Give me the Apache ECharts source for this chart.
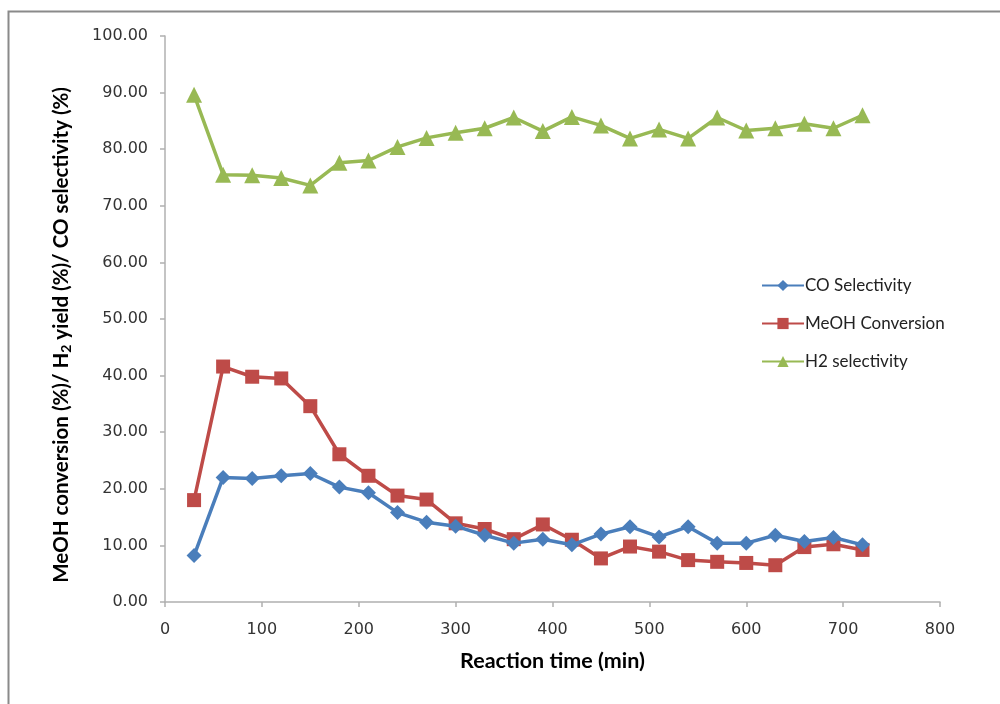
<!DOCTYPE html>
<html>
<head>
<meta charset="utf-8">
<script src="https://cdn.jsdelivr.net/npm/echarts@6/dist/echarts.min.js"></script>
<style>
  html, body { margin: 0; padding: 0; background: #fff; }
  #chart { width: 1000px; height: 704px; }
</style>
</head>
<body>
<div id="chart"></div>
<script>
// Reaction time (min)
const times = [30, 60, 90, 120, 150, 180, 210, 240, 270, 300, 330, 360,
               390, 420, 450, 480, 510, 540, 570, 600, 630, 660, 690, 720];

// CO selectivity (%)
const coSelectivity = [8.2, 22.0, 21.8, 22.3, 22.7, 20.3, 19.3, 15.8, 14.1, 13.4, 11.8, 10.4,
                       11.1, 10.1, 12.0, 13.3, 11.5, 13.3, 10.4, 10.4, 11.8, 10.7, 11.4, 10.1];

// MeOH conversion (%)
const meohConversion = [18.0, 41.6, 39.8, 39.5, 34.6, 26.1, 22.3, 18.8, 18.1, 13.9, 12.9, 11.1,
                        13.7, 11.0, 7.7, 9.8, 8.9, 7.4, 7.1, 6.9, 6.5, 9.7, 10.2, 9.2];

// H2 selectivity (%)
const h2Selectivity = [89.6, 75.5, 75.4, 74.9, 73.6, 77.6, 78.0, 80.4, 82.0, 82.9, 83.7, 85.6,
                       83.2, 85.7, 84.2, 81.9, 83.5, 81.9, 85.6, 83.3, 83.7, 84.5, 83.7, 86.0];

const seriesNames = ['CO Selectivity', 'MeOH Conversion', 'H2 selectivity'];
const seriesColors = ['#4a7ebb', '#be4b48', '#98b954'];
const seriesSymbols = ['diamond', 'rect', 'triangle'];
const seriesSizes = [15, 14, 16];

const pair = (vals) => times.map((t, i) => [t, vals[i]]);
const allValues = [coSelectivity, meohConversion, h2Selectivity];

const chart = echarts.init(document.getElementById('chart'));

const axisFont = 'DejaVu Sans';
const titleFont = 'Lato';

chart.setOption({
  backgroundColor: '#fff',
  animation: false,
  grid: { left: 165, right: 60, top: 36, bottom: 102, containLabel: false },
  graphic: [{
    type: 'rect',
    shape: { x: 8.5, y: 11.5, width: 1010, height: 720 },
    style: { fill: 'none', stroke: '#8a8a8a', lineWidth: 2 },
    silent: true
  }, {
    type: 'text',
    left: 51,
    top: 87,
    rotation: Math.PI / 2,
    originX: 0,
    originY: 0,
    style: {
      text: '{t|MeOH conversion (%)/ H}{s|2}{t| yield (%)/ CO selectivity (%)}',
      rich: {
        t: { fontFamily: titleFont, fontWeight: 'bold', fontSize: 20.5, fill: '#000' },
        s: { fontFamily: titleFont, fontWeight: 'bold', fontSize: 14, fill: '#000', padding: [10, 0, 0, 0] }
      }
    }
  }],
  legend: {
    orient: 'vertical',
    left: 756,
    top: 272,
    itemWidth: 42,
    itemHeight: 14,
    itemGap: 21,
    textStyle: { fontFamily: 'Lato', fontSize: 17, color: '#222', padding: [0, 0, 0, -4] },
    data: seriesNames
  },
  xAxis: {
    type: 'value',
    min: 0,
    max: 800,
    interval: 100,
    name: 'Reaction time (min)',
    nameLocation: 'middle',
    nameGap: 48,
    nameTextStyle: { fontFamily: titleFont, fontWeight: 'bold', fontSize: 21.5, color: '#000' },
    axisLine: { show: true, lineStyle: { color: '#b0b0b0', width: 1.5 } },
    axisTick: { show: true, inside: false, length: 5, lineStyle: { color: '#b0b0b0', width: 1.5 } },
    axisLabel: { fontFamily: axisFont, fontSize: 16, color: '#333', margin: 20 },
    splitLine: { show: false }
  },
  yAxis: {
    type: 'value',
    min: 0,
    max: 100,
    interval: 10,
    axisLine: { show: true, lineStyle: { color: '#b0b0b0', width: 1.5 } },
    axisTick: { show: true, inside: false, length: 5, lineStyle: { color: '#b0b0b0', width: 1.5 } },
    axisLabel: {
      fontFamily: axisFont, fontSize: 16, color: '#333', margin: 17,
      formatter: (v) => v.toFixed(2)
    },
    splitLine: { show: false }
  },
  series: seriesNames.map((name, i) => ({
    name,
    type: 'line',
    data: pair(allValues[i]),
    symbol: seriesSymbols[i],
    symbolSize: seriesSizes[i],
    showAllSymbol: true,
    itemStyle: { color: seriesColors[i] },
    lineStyle: { color: seriesColors[i], width: 3.5 },
    z: 3 - i
  }))
});
</script>
</body>
</html>
